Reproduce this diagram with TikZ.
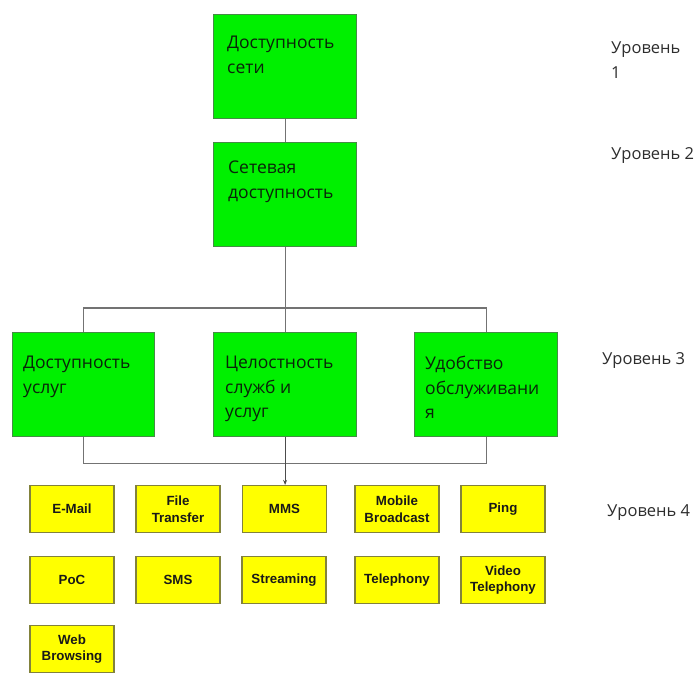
\documentclass[tikz,border=0pt]{standalone}
\usepackage{fontspec}
\setmainfont{Open Sans}
\newfontfamily\itemfont{Liberation Sans}
\usetikzlibrary{arrows.meta}
\definecolor{boxgreen}{RGB}{0,240,0}
\definecolor{greenedge}{RGB}{70,140,70}
\definecolor{greentxt}{RGB}{10,35,10}
\definecolor{boxyellow}{RGB}{255,255,0}
\definecolor{yellowedge}{RGB}{130,130,60}
\definecolor{linegray}{RGB}{115,115,115}
\definecolor{leveltxt}{RGB}{45,45,45}
\tikzset{
  greenbox/.style={draw=greenedge, fill=boxgreen, line width=1.2pt, minimum width=143pt, minimum height=104pt, anchor=north west, inner sep=0pt},
  greentext/.style={anchor=north west, align=left, inner sep=0pt, text=greentxt, font=\fontsize{17.5}{24.5}\selectfont},
  itembox/.style={draw=yellowedge, fill=boxyellow, line width=1.2pt, minimum width=84pt, minimum height=47pt, inner sep=0pt, align=center, text=black!90, font=\itemfont\bfseries\fontsize{13.3}{16.5}\selectfont},
  leveltext/.style={anchor=west, align=left, inner sep=0pt, text=leveltxt, font=\fontsize{16.5}{25}\selectfont},
  conn/.style={draw=linegray, line width=1.1pt}
}
\begin{document}
\begin{tikzpicture}[x=1pt,y=-1pt]
  \useasboundingbox (0,0) rectangle (699,673);
  % level 1 and 2
  \node[greenbox] (net) at (213,14) {};
  \node[greenbox] (netacc) at (213,142) {};
  % level 3
  \node[greenbox, minimum width=142pt] (avail) at (12,332) {};
  \node[greenbox] (integ) at (213,332) {};
  \node[greenbox] (conv) at (414,332) {};
  \node[greentext] (nettxt) at ([shift={(14,22)}]net.north west) {Доступность\\сети};
  \node[greentext] (netacctxt) at ([shift={(15,19)}]netacc.north west) {Сетевая\\доступность};
  \node[greentext] (availtxt) at ([shift={(11,24)}]avail.north west) {Доступность\\услуг};
  \node[greentext] (integtxt) at ([shift={(12,24)}]integ.north west) {Целостность\\служб и\\услуг};
  \node[greentext] (convtxt) at ([shift={(11,24)}]conv.north west) {Удобство\\обслуживани\\я};
  % level 4
  \node[itembox] (email) at (72,509) {E-Mail};
  \node[itembox] (file) at (178,509) {File\\Transfer};
  \node[itembox] (mms) at (284.5,509) {MMS};
  \node[itembox] (mobile) at (397,509) {Mobile\\Broadcast};
  \node[itembox] (ping) at (503,509) {Ping};
  \node[itembox] (poc) at (72,580) {PoC};
  \node[itembox] (sms) at (178,580) {SMS};
  \node[itembox] (stream) at (284,580) {Streaming};
  \node[itembox] (tel) at (397,580) {Telephony};
  \node[itembox] (video) at (503,580) {Video\\Telephony};
  \node[itembox] (web) at (72,649) {Web\\Browsing};
  % levels
  \node[leveltext] (lev1) at (611,60) {Уровень\\1};
  \node[leveltext] (lev2) at (611,156) {Уровень 2};
  \node[leveltext] (lev3) at (602,360) {Уровень 3};
  \node[leveltext] (lev4) at (607,513) {Уровень 4};
  % connectors
  \draw[conn] (net.south) -- (netacc.north);
  \draw[conn] (netacc.south) -- (integ.north);
  \draw[conn] (avail.north) -- ++(0,-24) -| (conv.north);
  \draw[conn] (avail.south) -- ++(0,26) -| (conv.south);
  \draw[conn, draw=black!70, -{Stealth[length=5pt,width=4pt]}] (integ.south) -- (integ.south |- mms.north);
\end{tikzpicture}
\end{document}
